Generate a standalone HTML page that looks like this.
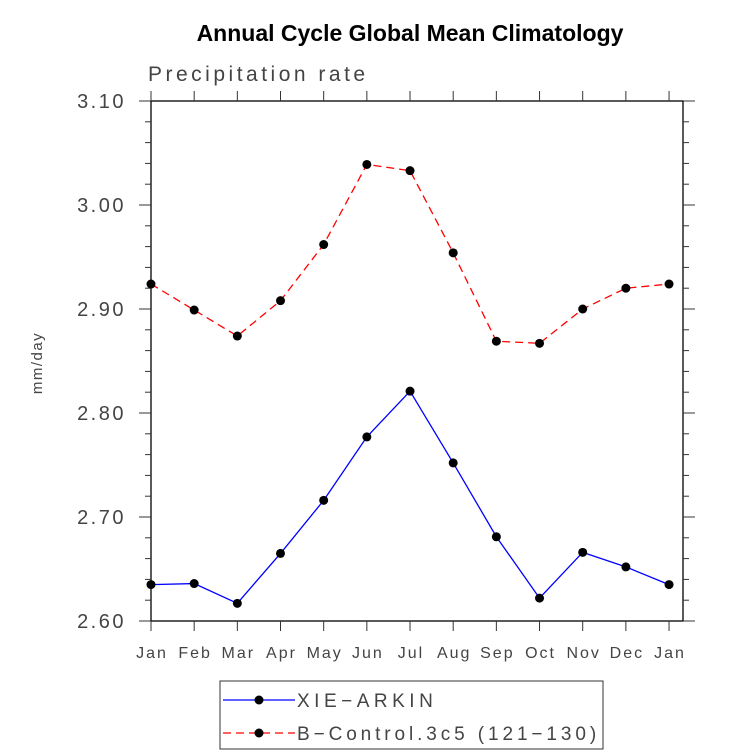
<!DOCTYPE html>
<html><head><meta charset="utf-8"><style>body{margin:0;background:#fff}svg{display:block}</style></head>
<body>
<svg id="c" width="733" height="756" xmlns="http://www.w3.org/2000/svg" font-family="Liberation Sans, sans-serif">
<text x="410" y="41" text-anchor="middle" font-size="23" font-weight="bold">Annual Cycle Global Mean Climatology</text>
<text x="148" y="81" font-size="21" fill="#444" letter-spacing="3.5">Precipitation rate</text>
<text transform="translate(42,363) rotate(-90)" text-anchor="middle" font-size="15" fill="#444" letter-spacing="1.5">mm/day</text>
<g id="axes"></g><g id="series"></g>
<g>
<rect x="220" y="681" width="383" height="68" fill="none" stroke="#333"/>
<line x1="223" y1="700" x2="295" y2="700" stroke="#00f" stroke-width="1.3"/><circle cx="259" cy="700" r="4.5"/>
<text x="297" y="707" font-size="19" fill="#444" letter-spacing="4.5">XIE−ARKIN</text>
<line x1="223" y1="733" x2="295" y2="733" stroke="#f00" stroke-width="1.3" stroke-dasharray="8,5"/><circle cx="259" cy="733" r="4.5"/>
<text x="297" y="740" font-size="19" fill="#444" letter-spacing="3.9">B−Control.3c5 (121−130)</text>
</g>
</svg>
<script>
const months=["Jan","Feb","Mar","Apr","May","Jun","Jul","Aug","Sep","Oct","Nov","Dec","Jan"];
const obsValues=[2.635,2.636,2.617,2.665,2.716,2.777,2.821,2.752,2.681,2.622,2.666,2.652,2.635];
const modelValues=[2.924,2.899,2.874,2.908,2.962,3.039,3.033,2.954,2.869,2.867,2.900,2.920,2.924];
const yTicks=["2.60","2.70","2.80","2.90","3.00","3.10"];
const NS="http://www.w3.org/2000/svg";
const L=151,R=683,T=101,B=621,dx=43.17;
const xs=i=>L+i*dx, ys=v=>B-(v-2.6)*(B-T)/0.5;
function mk(t,a,p){const e=document.createElementNS(NS,t);for(const k in a)e.setAttribute(k,a[k]);p.appendChild(e);return e;}
const ax=document.getElementById('axes');
const fr=mk('rect',{x:L,y:T,width:R-L,height:B-T,fill:'none',stroke:'#000','stroke-width':1.3},ax);


for(let k=0;k<=25;k++){const v=2.6+k*0.02,y=ys(v),maj=k%5==0,len=maj?12:6;
 mk('line',{x1:L-len,y1:y,x2:L,y2:y,stroke:'#333'},ax);mk('line',{x1:R,y1:y,x2:R+len,y2:y,stroke:'#333'},ax);}
yTicks.forEach(s=>{const t=mk('text',{x:126,y:ys(+s)+7,'text-anchor':'end','font-size':20,fill:'#444','letter-spacing':2.5},ax);t.textContent=s;
 
 });
months.forEach((m,i)=>{const x=xs(i);
 mk('line',{x1:x,y1:B,x2:x,y2:B+10,stroke:'#333'},ax);mk('line',{x1:x,y1:T-10,x2:x,y2:T,stroke:'#333'},ax);
 const t=mk('text',{x:x+1,y:B+37,'text-anchor':'middle','font-size':16,fill:'#444','letter-spacing':2},ax);t.textContent=m;
 
 });
const sg=document.getElementById('series');
function draw(vals,col,dash,name){const p=mk('polyline',{points:vals.map((v,i)=>xs(i)+','+ys(v)).join(' '),fill:'none',stroke:col,'stroke-width':1.3,'stroke-dasharray':dash},sg);
 
 
 vals.forEach((v,i)=>{const c=mk('circle',{cx:xs(i),cy:ys(v),r:4.5,fill:'#000'},sg);
  
  });}
draw(obsValues,'#00f','none','xie-arkin');
draw(modelValues,'#f00','8,5','b-control');
</script>
</body></html>
